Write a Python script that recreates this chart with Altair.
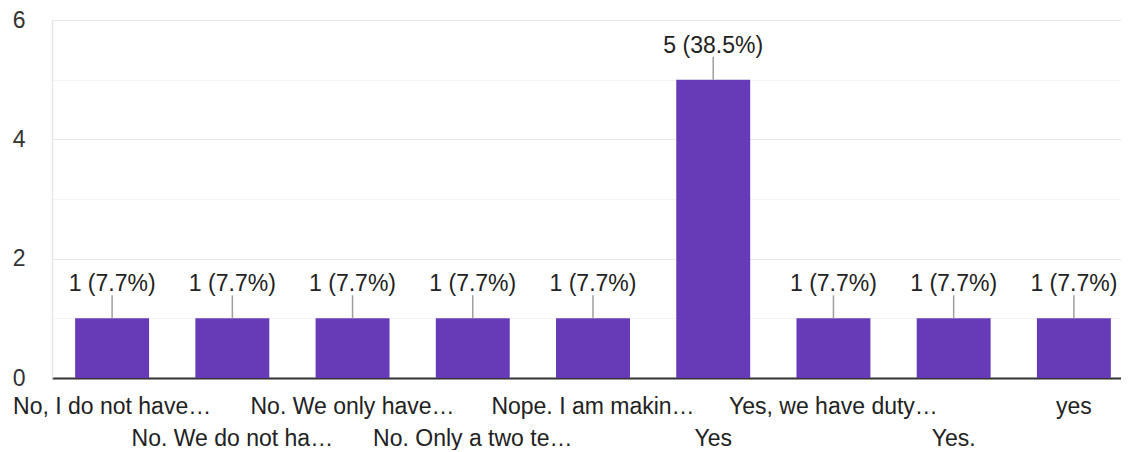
import json
import altair as alt
import pandas as pd

categories = [
    "No, I do not have…",
    "No. We do not ha…",
    "No. We only have…",
    "No. Only a two te…",
    "Nope. I am makin…",
    "Yes",
    "Yes, we have duty…",
    "Yes.",
    "yes",
]
counts = [1, 1, 1, 1, 1, 5, 1, 1, 1]
percents = ["7.7%", "7.7%", "7.7%", "7.7%", "7.7%", "38.5%", "7.7%", "7.7%", "7.7%"]
y_ticks = [0, 1, 2, 3, 4, 5, 6]

second_row = [c for i, c in enumerate(categories) if i % 2 == 1]

df = pd.DataFrame({
    "answer": categories,
    "count": counts,
    "label": [f"{c} ({p})" for c, p in zip(counts, percents)],
})

FONT = "Liberation Sans"
FS = 23
PURPLE = "#673ab7"

x_enc = alt.X(
    "answer:N",
    sort=None,
    title=None,
    scale=alt.Scale(range=[0, 1082], paddingInner=0.385, paddingOuter=0.1925),
    axis=alt.Axis(
        labelAngle=0,
        labelFont=FONT,
        labelFontSize=FS,
        labelColor="#222222",
        labelPadding=17,
        labelLineHeight=32,
        labelBaseline="top",
        labelLimit=400,
        labelOverlap=False,
        labelExpr=f"indexof({json.dumps(second_row)}, datum.label) >= 0 ? ['', datum.label] : datum.label",
        ticks=False,
        domainColor="#333333",
        domainWidth=2,
        grid=False,
    ),
)

y_enc = alt.Y(
    "count:Q",
    title=None,
    scale=alt.Scale(domain=[0, 6], nice=False),
    axis=alt.Axis(
        values=y_ticks,
        format="d",
        labelExpr="datum.value % 2 == 0 ? datum.label : ''",
        labelFont=FONT,
        labelFontSize=FS,
        labelColor="#333333",
        labelPadding=27,
        ticks=False,
        domainColor="#e6e6e6",
        domainWidth=1.5,
        grid=True,
        gridColor={"condition": {"test": "datum.value % 2 == 0", "value": "#e8e8e8"}, "value": "#f4f4f4"},
        gridWidth=1.2,
    ),
)

bars = alt.Chart(df).mark_bar(color=PURPLE).encode(x=x_enc, y=y_enc)

connectors = alt.Chart(df).mark_rule(color="#9e9e9e", strokeWidth=1.5, y2Offset=-23).encode(
    x=alt.X("answer:N", sort=None),
    y=alt.Y("count:Q"),
    y2=alt.Y2("count:Q"),
)

texts = alt.Chart(df).mark_text(
    font=FONT, fontSize=FS, color="#222222", baseline="alphabetic", dy=-27
).encode(
    x=alt.X("answer:N", sort=None),
    y=alt.Y("count:Q"),
    text="label:N",
)

chart = (
    alt.layer(bars, connectors, texts)
    .properties(
        width=1069,
        height=358,
        autosize=alt.AutoSizeParams(type="none"),
        padding={"left": 44, "top": 12, "right": 0, "bottom": 72},
    )
    .configure_view(stroke=None)
    .configure(background="white")
)

chart.save("out.html", embed_options={"renderer": "svg", "actions": False})
